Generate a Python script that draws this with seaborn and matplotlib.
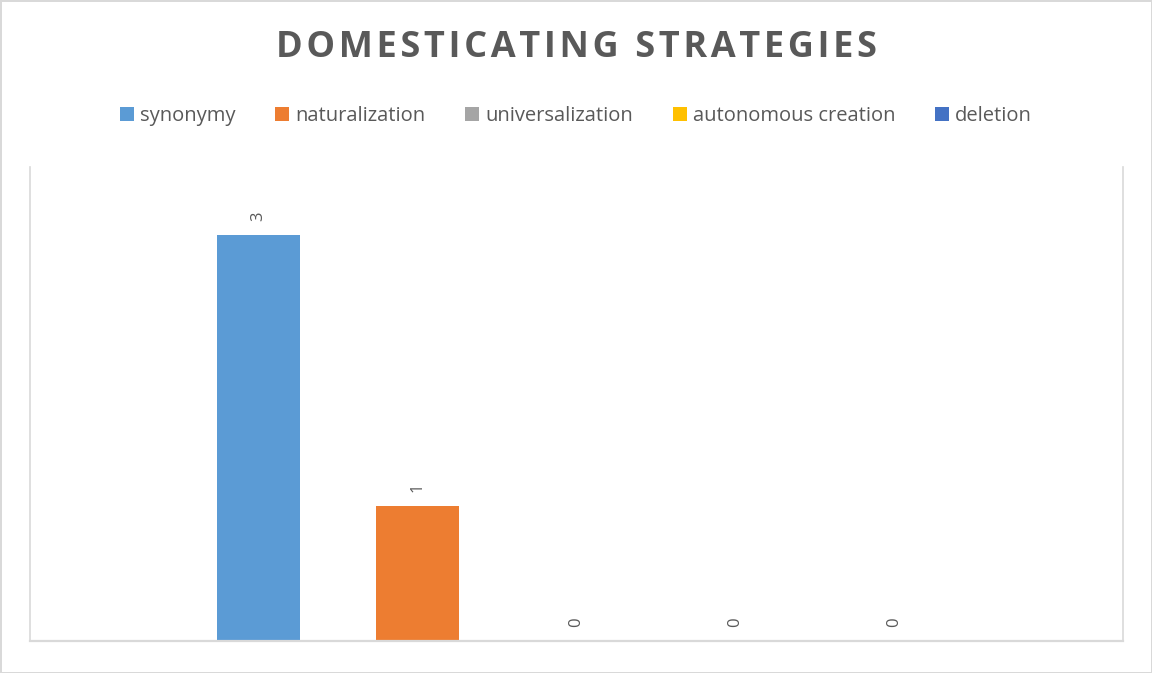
import pandas as pd
import matplotlib.pyplot as plt
import seaborn as sns

strategies = ["synonymy", "naturalization", "universalization", "autonomous creation", "deletion"]
counts = [3, 1, 0, 0, 0]
palette = ["#5B9BD5", "#ED7D31", "#A5A5A5", "#FFC000", "#4472C4"]
title = "DOMESTICATING STRATEGIES"

sns.set_style("white")
plt.rcParams["font.family"] = ["Open Sans", "DejaVu Sans"]
plt.rcParams["text.color"] = "#595959"

df = pd.DataFrame({"strategy": strategies, "count": counts})

fig = plt.figure(figsize=(11.52, 6.73), dpi=100, facecolor="white",
                 edgecolor="#d9d9d9", linewidth=2)
ax = fig.add_axes([0.026, 0.0475, 0.9488, 0.7044])

sns.barplot(data=df, x="strategy", y="count", hue="strategy",
            palette=palette, saturation=1, width=0.52, linewidth=0,
            legend=True, ax=ax)

for c in ax.containers:
    ax.bar_label(c, fmt="%d", rotation=90, padding=10, fontsize=12, color="#595959")

ax.set_xlim(-1.437, 5.437)
ax.set_ylim(0, 3.5)
ax.set_xticks([])
ax.set_yticks([])
ax.set_xlabel("")
ax.set_ylabel("")

ax.spines["top"].set_visible(False)
for s in ["left", "right", "bottom"]:
    ax.spines[s].set_color("#d9d9d9")
    ax.spines[s].set_linewidth(1.2)
ax.spines["bottom"].set_linewidth(1.6)

sns.move_legend(ax, "center", bbox_to_anchor=(0.5, 0.828), bbox_transform=fig.transFigure,
                ncol=5, frameon=False, title=None, fontsize=14.5,
                handlelength=0.7, handleheight=0.7, handletextpad=0.3, columnspacing=1.97)

# letter-spaced title, like the office chart style
spaced = "\u200a \u200a".join("\u200a".join(w) for w in title.split())
fig.text(0.5, 0.928, spaced, ha="center", va="center",
         fontsize=26, fontweight="bold", color="#595959")

fig.savefig("out.png", dpi=100, facecolor="white")
